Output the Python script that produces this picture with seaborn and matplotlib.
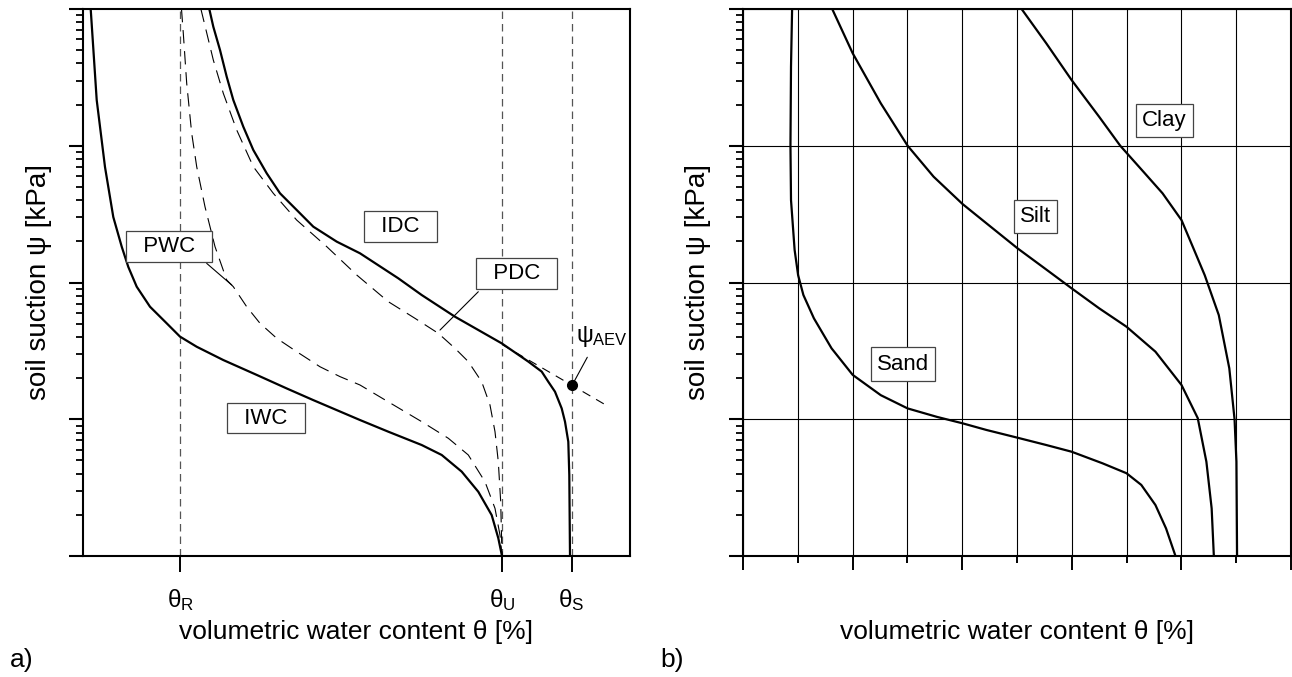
import numpy as np
import matplotlib
matplotlib.use("Agg")
import matplotlib.pyplot as plt
import seaborn as sns
from matplotlib.ticker import NullFormatter, NullLocator, FixedLocator, LogLocator, MultipleLocator

# ---------------- panel a) data ----------------
theta_R, theta_U, theta_S = 9.75, 41.95, 48.9
theta_ticklabels = [r"$\theta_\mathrm{R}$", r"$\theta_\mathrm{U}$", r"$\theta_\mathrm{S}$"]

iwc_theta = [0.82, 1.42, 2.25, 3.08, 3.92, 4.58, 5.42, 6.75, 8.42, 9.75, 11.42, 14.08, 17.42,
             20.42, 23.08, 27.75, 30.58, 33.92, 35.92, 37.92, 39.58, 40.92, 41.58, 41.95]
iwc_psi = [10000, 2161, 699, 301, 183, 130, 93.2, 66.5, 50.3, 40.2, 33.9, 27.1, 21.1,
           16.8, 13.8, 9.87, 8.11, 6.48, 5.48, 4.14, 2.95, 1.99, 1.35, 1.0]

idc_theta = [12.68, 13.08, 13.75, 14.42, 15.08, 16.08, 17.08, 18.42, 19.75, 21.42, 23.08, 25.42,
             27.75, 31.58, 33.92, 37.25, 41.92, 44.58, 45.92, 46.58, 47.25, 47.92, 48.25, 48.58,
             48.68, 48.75]
idc_psi = [10000, 7424, 5015, 3198, 2161, 1378, 931, 629, 449, 339, 256, 199,
           163.5, 107.3, 81.0, 56.2, 35.9, 26.4, 22.3, 18.8, 15.9, 12.0, 9.60, 6.85,
           3.91, 1.0]

pwc_theta = [9.9, 10.08, 10.42, 10.92, 11.42, 12.25, 13.25, 14.42, 15.08, 16.42, 17.75, 19.42,
             21.42, 23.75, 25.75, 27.75, 30.58, 33.92, 36.58, 38.58, 40.25, 41.25, 41.75, 41.95]
pwc_psi = [10000, 6642, 2862, 1233, 703, 358, 183, 104.3, 93.2, 66.5, 50.3, 39.1,
           31.2, 24.2, 20.5, 17.8, 13.4, 9.60, 7.26, 5.48, 3.49, 2.23, 1.42, 1.0]

pdc_theta = [11.84, 12.15, 13.08, 14.08, 15.42, 17.08, 19.08, 21.42, 24.42, 27.45, 30.58,
             33.25, 35.58, 37.25, 38.58, 39.92, 40.75, 41.25, 41.58, 41.82, 41.95]
pdc_psi = [10000, 8075, 4238, 2418, 1304, 703, 449, 286, 183, 113, 72.4,
           54.7, 42.5, 33.0, 26.4, 18.8, 12.7, 8.11, 4.89, 2.49, 1.0]

aev_line_theta = [41.95, 52.58]
aev_line_psi = [35.2, 12.4]
aev_point_theta, aev_point_psi = 48.9, 17.8

# ---------------- panel b) data ----------------
sand_theta = [4.48, 4.38, 4.33, 4.38, 4.71, 5.03, 5.51, 6.47, 8.08, 10.01, 12.57, 15.02, 17.71,
              20.03, 22.21, 25.04, 27.67, 29.98, 32.81, 34.99, 36.34, 37.63, 38.60, 39.46]
sand_psi = [10000, 3785, 1000, 401, 173, 113, 81.0, 54.7, 33.0, 21.1, 15.0, 12.0, 10.4,
            9.34, 8.35, 7.33, 6.48, 5.79, 4.76, 4.03, 3.31, 2.36, 1.59, 1.0]

silt_theta = [8.14, 10.01, 12.57, 15.02, 17.39, 20.03, 22.21, 25.04, 27.35, 28.96, 29.98,
              32.49, 34.99, 37.63, 40.01, 41.49, 42.28, 42.76, 42.96]
silt_psi = [10000, 4743, 2044, 1000, 594, 375, 271, 178, 130, 104.3, 90.7,
            64.8, 47.5, 31.2, 17.8, 10.2, 4.89, 2.23, 1.0]

clay_theta = [25.42, 27.67, 29.98, 32.49, 34.42, 36.66, 38.28, 40.01, 41.16, 42.13, 43.41,
              44.37, 44.85, 45.02, 45.08]
clay_psi = [10000, 5614, 3025, 1631, 1000, 629, 449, 286, 173, 113, 57.8,
            23.6, 10.0, 4.89, 1.0]

# label positions (theta, psi)
labels_a = {"IDC": (31.78, 258), "PDC": (43.38, 117), "PWC": (8.62, 184), "IWC": (18.33, 10.2)}
labels_b = {"Clay": (38.44, 1530), "Silt": (26.68, 305), "Sand": (14.59, 25.3)}
leader_pwc = ([12.42, 14.92], [138, 95.9])
leader_pdc = ([39.58, 35.75], [85.6, 44.9])
leader_aev = ([50.48, 49.15], [28.4, 18.8])
aev_text_pos = (49.3, 40)

# ---------------- style ----------------
sns.set_theme(style="white")
plt.rcParams["font.family"] = ["Liberation Sans", "DejaVu Sans"]
plt.rcParams["mathtext.fontset"] = "custom"
plt.rcParams["mathtext.rm"] = "Liberation Sans"
plt.rcParams["mathtext.it"] = "Liberation Sans"
plt.rcParams["mathtext.bf"] = "Liberation Sans:bold"
plt.rcParams["axes.edgecolor"] = "black"
plt.rcParams["axes.linewidth"] = 1.5
plt.rcParams["text.color"] = "black"
plt.rcParams["axes.labelcolor"] = "black"
plt.rcParams["xtick.color"] = "black"
plt.rcParams["ytick.color"] = "black"

fig = plt.figure(figsize=(12.92, 6.77), dpi=100)
ax1 = fig.add_axes([82.5 / 1292, 121 / 677, 547.5 / 1292, 547 / 677])
ax2 = fig.add_axes([743 / 1292, 121 / 677, 548 / 1292, 547 / 677])


def style_y(ax):
    ax.set_yscale("log")
    ax.set_ylim(1, 1e4)
    ax.yaxis.set_major_locator(LogLocator(base=10, numticks=10))
    ax.yaxis.set_minor_locator(LogLocator(base=10, subs=np.arange(2, 10) * 1.0, numticks=40))
    ax.yaxis.set_major_formatter(NullFormatter())
    ax.yaxis.set_minor_formatter(NullFormatter())
    ax.tick_params(axis="y", which="major", direction="out", length=10, width=1.5,
                   left=True, color="black")
    ax.tick_params(axis="y", which="minor", direction="out", length=5, width=1.3,
                   left=True, color="black")
    for s in ax.spines.values():
        s.set_color("black")
        s.set_linewidth(1.5)
    ax.set_ylabel("soil suction ψ [kPa]", fontsize=20)
    ax.set_xlabel("volumetric water content θ [%]", fontsize=19)


style_y(ax1)
style_y(ax2)

# ---------------- panel a ----------------
ax1.set_xlim(0, 54.75)
for v in (theta_R, theta_U, theta_S):
    ax1.axvline(v, color="#555555", lw=0.9, ls=(0, (6, 4)), zorder=1)

solid_kw = dict(color="black", lw=1.6, sort=False, estimator=None, ax=ax1)
dash_kw = dict(color="black", lw=0.8, sort=False, estimator=None, ax=ax1, linestyle=(0, (12, 7)))
sns.lineplot(x=iwc_theta, y=iwc_psi, **solid_kw)
sns.lineplot(x=idc_theta, y=idc_psi, **solid_kw)
sns.lineplot(x=pwc_theta, y=pwc_psi, **dash_kw)
sns.lineplot(x=pdc_theta, y=pdc_psi, **dash_kw)
sns.lineplot(x=aev_line_theta, y=aev_line_psi, color="black", lw=0.8, sort=False,
             estimator=None, ax=ax1, linestyle=(0, (8, 6)))
ax1.plot([aev_point_theta], [aev_point_psi], "o", color="black", ms=7, zorder=5)

for xs, ys in (leader_pwc, leader_pdc, leader_aev):
    ax1.plot(xs, ys, color="black", lw=0.8)

for name, (x, y) in labels_a.items():
    ax1.text(x, y, "  " + name + "  ", ha="center", va="center", fontsize=16,
             bbox=dict(boxstyle="square,pad=0.22", fc="white", ec="#444444", lw=0.9), zorder=6)
ax1.text(*aev_text_pos, r"$\psi_\mathrm{AEV}$", ha="left", va="center", fontsize=17)

ax1.xaxis.set_major_locator(FixedLocator([theta_R, theta_U, theta_S]))
ax1.xaxis.set_minor_locator(NullLocator())
ax1.set_xticklabels(theta_ticklabels, fontsize=17.5)
ax1.tick_params(axis="x", which="major", direction="out", length=11.5, width=1.4,
                bottom=True, color="black", labelcolor="black", pad=11)

# ---------------- panel b ----------------
ax2.set_xlim(0, 50)
ax2.xaxis.set_major_locator(MultipleLocator(10))
ax2.xaxis.set_minor_locator(MultipleLocator(5))
ax2.xaxis.set_major_formatter(NullFormatter())
ax2.xaxis.set_minor_formatter(NullFormatter())
ax2.tick_params(axis="x", which="major", direction="out", length=10, width=1.4,
                bottom=True, color="black")
ax2.tick_params(axis="x", which="minor", direction="out", length=5, width=1.4,
                bottom=True, color="black")
ax2.set_axisbelow(True)
ax2.grid(True, which="both", axis="x", color="black", lw=0.8)
ax2.grid(True, which="major", axis="y", color="black", lw=0.8)

solid_kw2 = dict(color="black", lw=1.6, sort=False, estimator=None, ax=ax2)
sns.lineplot(x=sand_theta, y=sand_psi, **solid_kw2)
sns.lineplot(x=silt_theta, y=silt_psi, **solid_kw2)
sns.lineplot(x=clay_theta, y=clay_psi, **solid_kw2)

for name, (x, y) in labels_b.items():
    ax2.text(x, y, name, ha="center", va="center", fontsize=16,
             bbox=dict(boxstyle="square,pad=0.28", fc="white", ec="#444444", lw=0.9), zorder=6)

# label positions
ax1.xaxis.set_label_coords(0.5, -0.117)
ax2.xaxis.set_label_coords(0.5, -0.117)
ax1.yaxis.set_label_coords(-0.0557, 0.5)
ax2.yaxis.set_label_coords(-0.0584, 0.5)

fig.text(22 / 1292, 1 - 660 / 677, "a)", ha="center", va="center", fontsize=19)
fig.text(672 / 1292, 1 - 660 / 677, "b)", ha="center", va="center", fontsize=19)

fig.savefig("out.png", dpi=100)
